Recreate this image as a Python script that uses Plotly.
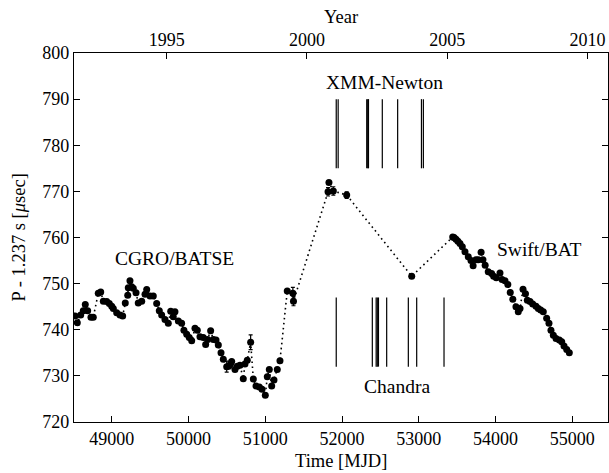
import plotly.graph_objects as go

# Pulse period history
mjd = [48523, 48552, 48596, 48630, 48656, 48687, 48730, 48760, 48825, 48857,
       48891, 48935, 48969, 49000, 49021, 49065, 49108, 49143, 49177, 49209,
       49216, 49238, 49260, 49281, 49317, 49346, 49391, 49434, 49456, 49499,
       49542, 49586, 49620, 49651, 49694, 49737, 49769, 49802, 49824, 49868,
       49911, 49941, 49977, 50010, 50042, 50085, 50115, 50150, 50193, 50224,
       50250, 50289, 50324, 50359, 50389, 50424, 50454, 50498, 50525, 50548,
       50563, 50606, 50636, 50671, 50714, 50736, 50766, 50810, 50845, 50880,
       50923, 50958, 51001, 51027, 51053, 51084, 51114, 51157, 51192, 51287,
       51360, 51368, 51818, 51830, 51887, 52061, 52908, 53442, 53460, 53485,
       53510, 53537, 53567, 53602, 53645, 53680, 53708, 53745, 53775, 53812,
       53836, 53865, 53905, 53949, 53975, 54010, 54058, 54085, 54123, 54160,
       54192, 54225, 54266, 54296, 54319, 54358, 54390, 54414, 54449, 54484,
       54527, 54557, 54588, 54622, 54666, 54696, 54722, 54753, 54788, 54831,
       54862, 54892, 54927, 54961]
period = [743.0, 741.5, 743.2, 744.1, 745.5, 744.1, 742.7, 742.7, 747.9, 748.2,
          746.2, 746.1, 745.7, 745.1, 744.6, 743.7, 743.2, 743.0, 745.8, 747.5,
          749.1, 750.6, 749.3, 749.0, 748.0, 745.8, 746.2, 747.7, 748.7, 747.3,
          747.3, 745.7, 744.1, 743.2, 742.2, 741.4, 744.0, 742.8, 743.9, 741.9,
          741.4, 739.9, 739.0, 738.3, 737.6, 740.3, 739.9, 738.5, 738.3, 736.8,
          737.9, 739.8, 737.9, 737.8, 736.7, 735.0, 733.6, 732.0, 732.1, 732.6,
          733.1, 731.4, 732.1, 732.3, 729.4, 732.6, 733.4, 737.3, 729.3, 727.8,
          727.6, 727.1, 725.8, 729.8, 731.4, 727.8, 729.1, 731.4, 733.3, 748.4,
          747.9, 746.2, 769.9, 771.9, 770.1, 769.2, 751.6, 760.1, 760.0, 759.6,
          759.2, 758.7, 758.0, 756.9, 755.8, 755.0, 753.9, 755.2, 755.2, 756.8,
          755.2, 754.0, 752.6, 752.2, 751.6, 751.3, 752.3, 750.9, 750.6, 749.8,
          748.1, 746.6, 745.0, 743.9, 744.6, 748.8, 747.8, 746.4, 746.1, 745.6,
          745.1, 744.6, 744.3, 743.9, 742.5, 741.4, 739.9, 738.8, 738.1, 737.8,
          737.4, 736.5, 735.7, 735.0]
err = [0.0] * len(mjd)
err_points = {50498: 1.2, 50810: 1.6, 51360: 1.3, 51368: 1.0, 51818: 0.9,
              51887: 0.9, 52061: 0.7}
for i, m in enumerate(mjd):
    if m in err_points:
        err[i] = err_points[m]

# Observation epochs
xmm_obs = [51925, 51950, 52322, 52335, 52345, 52525, 52725, 53035, 53060]
chandra_obs = [51925, 52395, 52445, 52460, 52475, 52582, 52864, 52973, 53329]
xmm_range = [775, 790]
chandra_range = [732, 747]

year_labels = ["1995", "2000", "2005", "2010"]
year_mjd = [49718, 51544, 53371, 55197]

FONT = "Liberation Serif"

fig = go.Figure()


def vlines(xs, yr):
    xx, yy = [], []
    for v in xs:
        xx += [v, v, None]
        yy += [yr[0], yr[1], None]
    return xx, yy


xx, yy = vlines(xmm_obs, xmm_range)
fig.add_trace(go.Scatter(x=xx, y=yy, mode="lines",
                         line=dict(color="black", width=1.2),
                         showlegend=False, hoverinfo="skip"))
xx, yy = vlines(chandra_obs, chandra_range)
fig.add_trace(go.Scatter(x=xx, y=yy, mode="lines",
                         line=dict(color="black", width=1.2),
                         showlegend=False, hoverinfo="skip"))

fig.add_trace(go.Scatter(
    x=mjd, y=period, mode="lines+markers",
    line=dict(color="black", width=1.6, dash="1.6px,3.4px"),
    marker=dict(color="black", size=7),
    error_y=dict(type="data", array=err, visible=True, color="black",
                 thickness=1.2, width=2),
    showlegend=False))

# top year axis helper trace
fig.add_trace(go.Scatter(x=[year_mjd[0]], y=[760], xaxis="x2",
                         mode="markers", marker=dict(opacity=0),
                         showlegend=False, hoverinfo="skip"))

xr = [48509, 55465]
fig.update_layout(
    width=609, height=473,
    margin=dict(l=74, r=1, t=53, b=51),
    paper_bgcolor="white", plot_bgcolor="white",
    font=dict(family=FONT, size=18, color="black"),
    xaxis=dict(range=xr, showgrid=False, zeroline=False,
               showline=True, linecolor="black", linewidth=1.2, mirror=True,
               ticks="inside", ticklen=6, tickcolor="black",
               tickvals=[49000, 50000, 51000, 52000, 53000, 54000, 55000],
               ticktext=["49000", "50000", "51000", "52000", "53000",
                         "54000", "55000"],
               tickfont=dict(family=FONT, size=18)),
    xaxis2=dict(range=xr, overlaying="x", side="top", showgrid=False,
                zeroline=False, showline=False,
                ticks="inside", ticklen=6, tickcolor="black",
                tickvals=year_mjd, ticktext=year_labels,
                ticklabelstandoff=2,
                tickfont=dict(family=FONT, size=18)),
    yaxis=dict(range=[720, 800], showgrid=False, zeroline=False,
               showline=True, linecolor="black", linewidth=1.2,
               mirror="ticks", ticks="inside", ticklen=6, tickcolor="black",
               tickvals=list(range(720, 801, 10)),
               tickfont=dict(family=FONT, size=18)),
)

ann = [
    dict(text="CGRO/BATSE", x=49824, y=755.5, xref="x", yref="y"),
    dict(text="Swift/BAT", x=54579, y=757.3, xref="x", yref="y"),
    dict(text="XMM-Newton", x=52560, y=793.7, xref="x", yref="y"),
    dict(text="Chandra", x=52712, y=727.8, xref="x", yref="y"),
]
for a in ann:
    fig.add_annotation(**a, showarrow=False, xanchor="center",
                       yanchor="middle",
                       font=dict(family=FONT, size=19.5, color="black"))

fig.add_annotation(text="Year", xref="paper", yref="paper", x=0.5,
                   y=(422 - 17) / 369, xanchor="center", yanchor="middle",
                   showarrow=False, font=dict(family=FONT, size=18.5))
fig.add_annotation(text="Time [MJD]", xref="paper", yref="paper", x=0.5,
                   y=(422 - 461) / 369, xanchor="center", yanchor="middle",
                   showarrow=False, font=dict(family=FONT, size=18.5))
fig.add_annotation(text="P - 1.237 s [<i>μ</i>sec]", xref="paper",
                   yref="paper", x=(18 - 74) / 534, y=0.5, textangle=-90,
                   xanchor="center", yanchor="middle",
                   showarrow=False, font=dict(family=FONT, size=18.5))

fig.write_html("out.html")
